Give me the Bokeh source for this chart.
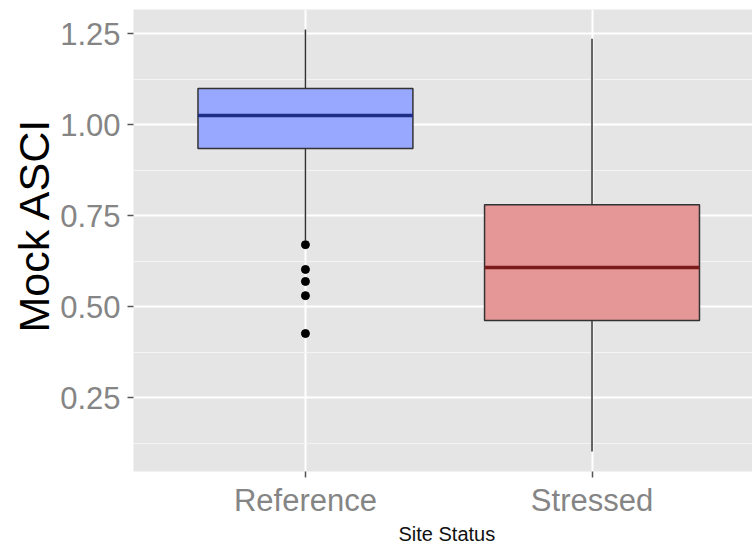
from bokeh.plotting import figure
from bokeh.models import FixedTicker, NumeralTickFormatter, Title, ColumnDataSource
from bokeh.embed import file_html
from bokeh.resources import INLINE

# ---- data ----
categories = ["Reference", "Stressed"]
q1 = [0.934, 0.462]
median = [1.025, 0.607]
q3 = [1.099, 0.780]
whisker_low = [0.682, 0.102]
whisker_high = [1.261, 1.236]
outlier_category = ["Reference", "Reference", "Reference", "Reference", "Reference"]
outlier_values = [0.670, 0.602, 0.569, 0.530, 0.426]
box_fill = ["#98A8FE", "#E59696"]
median_color = ["#1F2D86", "#7A1B1B"]
y_ticks = [0.25, 0.50, 0.75, 1.00, 1.25]
y_minor = [0.125, 0.375, 0.625, 0.875, 1.125]

pos = [i + 1 for i in range(len(categories))]
half = 0.375
src = ColumnDataSource(dict(
    x=pos, q1=q1, med=median, q3=q3, lo=whisker_low, hi=whisker_high,
    fill=box_fill, medc=median_color,
    x0=[p_ - half for p_ in pos], x1=[p_ + half for p_ in pos],
))
out_src = ColumnDataSource(dict(
    x=[categories.index(c) + 1 for c in outlier_category], y=outlier_values,
))

p = figure(width=752, height=545, output_backend="svg", toolbar_location=None,
           x_range=(0.4, 2.56), y_range=(0.047, 1.316), title_location=None,
           min_border_left=133, min_border_right=0, min_border_top=9,
           min_border_bottom=74)
p.background_fill_color = "#E5E5E5"
p.border_fill_color = "white"
p.outline_line_color = None

# whiskers
p.segment(x0="x", y0="q3", x1="x", y1="hi", source=src, line_color="#333333", line_width=1.5)
p.segment(x0="x", y0="q1", x1="x", y1="lo", source=src, line_color="#333333", line_width=1.5)
# boxes
p.vbar(x="x", width=2 * half, top="q3", bottom="q1", source=src,
       fill_color="fill", line_color="#333333", line_width=1.5)
# medians
p.segment(x0="x0", y0="med", x1="x1", y1="med", source=src, line_color="medc", line_width=3.5)
# outliers
p.scatter(x="x", y="y", source=out_src, size=8, color="black")

# axes
p.xaxis.ticker = FixedTicker(ticks=pos)
p.xaxis.major_label_overrides = {p_: c for p_, c in zip(pos, categories)}
p.yaxis.ticker = FixedTicker(ticks=y_ticks, minor_ticks=y_minor)
p.yaxis.formatter = NumeralTickFormatter(format="0.00")
for ax in (p.xaxis[0], p.yaxis[0]):
    ax.axis_line_color = None
    ax.major_tick_line_color = "#555555"
    ax.major_tick_line_width = 1.5
    ax.major_tick_out = 6
    ax.major_tick_in = 0
    ax.minor_tick_line_color = None
    ax.major_label_text_font = "Liberation Sans"
    ax.major_label_text_font_size = "31px"
    ax.major_label_text_color = "#858585"
p.yaxis.major_label_standoff = 7
p.xaxis.major_label_standoff = 5

# grid
p.ygrid.grid_line_color = "white"
p.ygrid.grid_line_width = 2
p.ygrid.minor_grid_line_color = "#F4F4F4"
p.ygrid.minor_grid_line_width = 1
p.xgrid.ticker = FixedTicker(ticks=pos)
p.xgrid.grid_line_color = "white"
p.xgrid.grid_line_width = 2

# axis titles
p.add_layout(Title(text="Mock ASCI", align="left", offset=139, standoff=0,
                   text_font="Liberation Sans", text_font_size="43px",
                   text_font_style="normal", text_color="black"), "left")
p.add_layout(Title(text="Site Status", align="left", offset=265, standoff=0,
                   text_font="Liberation Sans", text_font_size="20px",
                   text_font_style="normal", text_color="#111111"), "below")

open("out.html", "w").write(file_html(p, INLINE))
